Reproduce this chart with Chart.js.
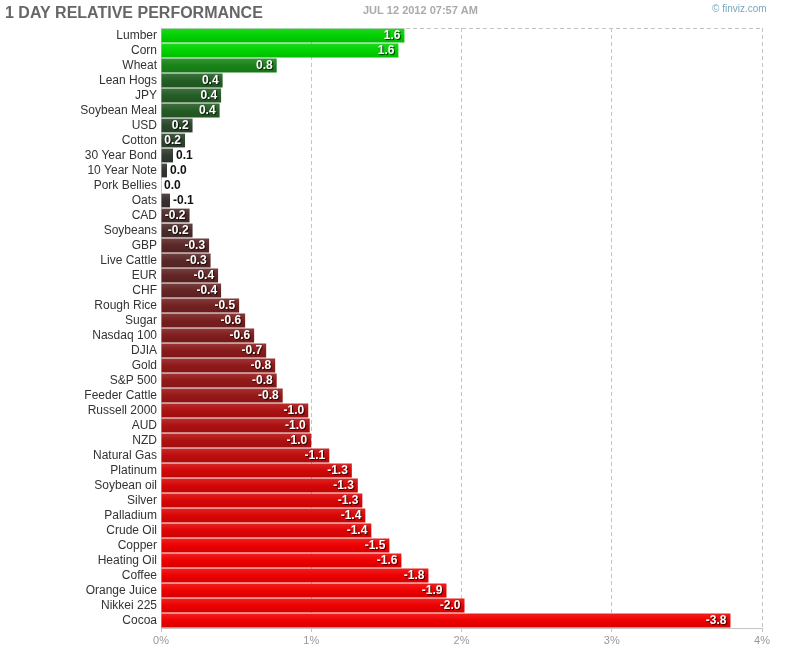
<!DOCTYPE html>
<html><head><meta charset="utf-8">
<script src="https://cdn.jsdelivr.net/npm/chart.js@4"></script>
<style>html,body{margin:0;padding:0;background:#fff}#wrap{width:787px;height:651px;position:relative}</style>
</head><body><div id="wrap"><canvas id="c"></canvas></div>
<script>
const categories = ["Lumber","Corn","Wheat","Lean Hogs","JPY","Soybean Meal","USD","Cotton","30 Year Bond","10 Year Note","Pork Bellies","Oats","CAD","Soybeans","GBP","Live Cattle","EUR","CHF","Rough Rice","Sugar","Nasdaq 100","DJIA","Gold","S&P 500","Feeder Cattle","Russell 2000","AUD","NZD","Natural Gas","Platinum","Soybean oil","Silver","Palladium","Crude Oil","Copper","Heating Oil","Coffee","Orange Juice","Nikkei 225","Cocoa"];
const changes = [1.62,1.58,0.77,0.41,0.40,0.39,0.21,0.16,0.08,0.04,0.00,-0.06,-0.19,-0.21,-0.32,-0.33,-0.38,-0.40,-0.52,-0.56,-0.62,-0.70,-0.76,-0.77,-0.81,-0.98,-0.99,-1.00,-1.12,-1.27,-1.31,-1.34,-1.36,-1.40,-1.52,-1.60,-1.78,-1.90,-2.02,-3.79];
const tickValues = [0,1,2,3,4];
const titleText = "1 DAY RELATIVE PERFORMANCE";
const dateText = "JUL 12 2012 07:57 AM";
const creditText = "\u00A9 finviz.com";

const FONT = "Arial, 'Liberation Sans', sans-serif";
function mix(a,b,t){return a.map((v,i)=>Math.round(v+(b[i]-v)*t));}
function baseColor(v){
  const t=Math.min(Math.abs(v)/1.5,1);
  const neutral=[50,50,50];
  return v>=0 ? mix(neutral,[0,210,0],t) : mix(neutral,[238,0,0],t);
}
function rgb(c){return 'rgb('+c.join(',')+')';}
function barFill(c){
  const chart=c.chart, ys=chart.scales && chart.scales.y;
  if(c.dataIndex===undefined) return '#333';
  const base=baseColor(changes[c.dataIndex]);
  if(!ys) return rgb(base);
  const y=ys.getPixelForValue(c.dataIndex);
  const h=ys.height/categories.length*0.92;
  if(!isFinite(y)||!isFinite(h)||h<=0) return rgb(base);
  const g=chart.ctx.createLinearGradient(0,y-h/2,0,y+h/2);
  g.addColorStop(0, rgb(mix(base,[255,255,255],0.12)));
  g.addColorStop(0.5, rgb(base));
  g.addColorStop(1, rgb(mix(base,[0,0,0],0.1)));
  return g;
}

const decor = {
  id:'decor',
  afterDraw(chart){
    const ctx=chart.ctx, a=chart.chartArea;
    ctx.save();
    ctx.strokeStyle='#c4c4c4'; ctx.lineWidth=1; ctx.setLineDash([4,3]);
    ctx.beginPath(); ctx.moveTo(a.left,a.top+0.5); ctx.lineTo(a.right,a.top+0.5); ctx.stroke();
    ctx.setLineDash([]);
    ctx.textBaseline='alphabetic';
    ctx.fillStyle='#666'; ctx.font='bold 16px '+FONT; ctx.textAlign='left';
    ctx.fillText(titleText,5,18);
    ctx.fillStyle='#aaa'; ctx.font='bold 11px '+FONT;
    ctx.fillText(dateText,363,14);
    ctx.fillStyle='#7aa6bd'; ctx.font='10px '+FONT;
    ctx.fillText(creditText,712,12);
    ctx.restore();
  },
  afterDatasetsDraw(chart){
    const ctx=chart.ctx, meta=chart.getDatasetMeta(0);
    ctx.save();
    ctx.font='bold 12px '+FONT; ctx.textBaseline='middle';
    meta.data.forEach((bar,i)=>{
      const txt=changes[i].toFixed(1);
      const w=ctx.measureText(txt).width;
      const bw=bar.x-bar.base;
      if(bw>=w+4){
        ctx.textAlign='right';
        ctx.shadowColor='rgba(0,0,0,0.75)'; ctx.shadowOffsetX=1; ctx.shadowOffsetY=1; ctx.shadowBlur=1;
        ctx.fillStyle='#fff';
        ctx.fillText(txt,bar.x-4,bar.y+0.5);
      } else {
        ctx.textAlign='left';
        ctx.shadowColor='transparent';
        ctx.fillStyle='#111';
        ctx.fillText(txt,bar.x+3,bar.y+0.5);
      }
    });
    ctx.restore();
  }
};

new Chart(document.getElementById('c'),{
  type:'bar',
  data:{labels:categories,datasets:[{data:changes.map(v=>Math.abs(v)),backgroundColor:barFill,borderWidth:0,inflateAmount:0,barPercentage:0.92,categoryPercentage:1}]},
  options:{
    indexAxis:'y',responsive:true,maintainAspectRatio:false,animation:false,
    layout:{padding:{top:28,right:25,left:0,bottom:0}},
    plugins:{legend:{display:false},tooltip:{enabled:false}},
    scales:{
      x:{min:tickValues[0],max:tickValues[tickValues.length-1],
        afterBuildTicks(s){s.ticks=tickValues.map(v=>({value:v}));},
        afterFit(s){s.height=23;},
        ticks:{callback:v=>v+'%',color:'#999',font:{family:FONT,size:11},padding:2,maxRotation:0},
        grid:{z:-1,color:'#c4c4c4',lineWidth:1,tickLength:4,tickColor:'#c4c4c4',tickBorderDash:[]},
        border:{display:true,color:'#c4c4c4',dash:[4,3]}
      },
      y:{
        afterFit(s){s.width=161;},
        ticks:{color:'#333',font:{family:FONT,size:12},padding:4,autoSkip:false},
        grid:{display:false,drawTicks:false},
        border:{display:true,color:'#c4c4c4'}
      }
    }
  },
  plugins:[decor]
});
</script></body></html>
